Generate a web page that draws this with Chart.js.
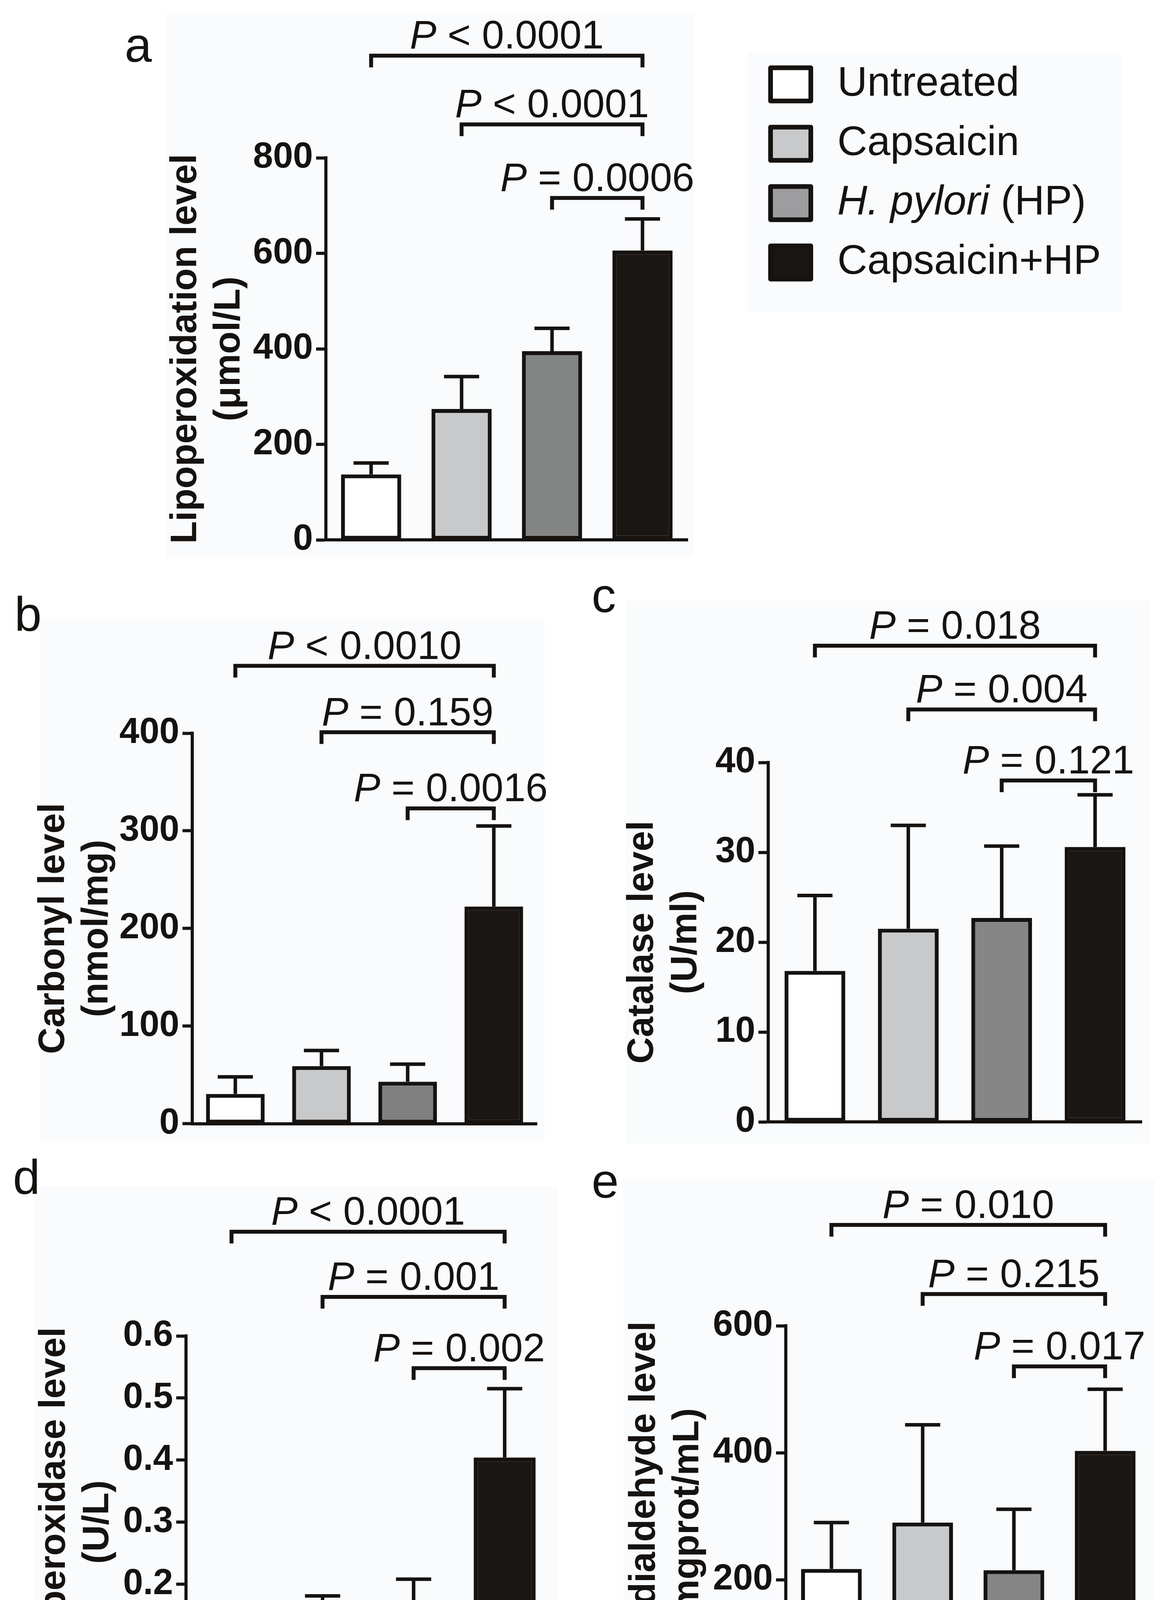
<!DOCTYPE html>
<html>
<head>
<meta charset="utf-8">
<script src="https://cdn.jsdelivr.net/npm/chart.js@4.4.1/dist/chart.umd.min.js"></script>
<style>
    html, body { margin: 0; padding: 0; background: #fff; }
    #fig { position: relative; width: 2984px; height: 4462px; overflow: hidden; background: #fff; }
    canvas { position: absolute; }
</style>
</head>
<body>
<div id="fig">
    <canvas id="chartA"></canvas>
    <canvas id="chartB"></canvas>
    <canvas id="chartC"></canvas>
    <canvas id="chartD"></canvas>
    <canvas id="chartE"></canvas>
</div>
<script>
// groups shown in every panel
const groups = ['Untreated', 'Capsaicin', 'H. pylori (HP)', 'Capsaicin+HP'];
// each comparison is drawn against Capsaicin+HP
const comparisons = [[0, 3], [1, 3], [2, 3]];

// a - lipoperoxidation
const lipoMean = [137, 274, 395, 606];
const lipoSd = [24, 68, 48, 66];
const lipoTicks = [0, 200, 400, 600, 800];
const lipoP = ['< 0.0001', '< 0.0001', '= 0.0006'];
const lipoBracket = [1014, 870, 716];

// b - carbonyl
const carbMean = [30.5, 59, 43, 222.5];
const carbSd = [17.5, 16, 18, 82.5];
const carbTicks = [0, 100, 200, 300, 400];
const carbP = ['< 0.0010', '= 0.159', '= 0.0016'];
const carbBracket = [469, 401, 323];

// c - catalase
const catMean = [16.8, 21.5, 22.7, 30.6];
const catSd = [8.4, 11.5, 8.0, 5.8];
const catTicks = [0, 10, 20, 30, 40];
const catP = ['= 0.018', '= 0.004', '= 0.121'];
const catBracket = [53.0, 45.9, 38.0];

// d - myeloperoxidase
const mpoMean = [0.013, 0.153, 0.160, 0.404];
const mpoSd = [0.003, 0.028, 0.048, 0.111];
const mpoTicks = [0, 0.1, 0.2, 0.3, 0.4, 0.5, 0.6];
const mpoP = ['< 0.0001', '= 0.001', '= 0.002'];
const mpoBracket = [0.768, 0.663, 0.548];

// e - malondialdehyde
const mdaMean = [217, 290, 215, 403];
const mdaSd = [73, 154, 96, 97];
const mdaTicks = [0, 200, 400, 600];
const mdaP = ['= 0.010', '= 0.215', '= 0.017'];
const mdaBracket = [759, 650, 536];

const INK = '#151210';
const PANEL_BG = '#f9fbfd';
const FONT = "'Liberation Sans', Arial, Helvetica, sans-serif";
const TITLE_SIZE = 94;
const TITLE_LH = 1.18;
const P_SIZE = 102;
const LEGEND_SIZE = 106;

const drawPValue = (ctx, text, cx, baseline) => {
    ctx.font = `italic ${P_SIZE}px ${FONT}`;
    const wP = ctx.measureText('P').width;
    ctx.font = `${P_SIZE}px ${FONT}`;
    const rest = ' ' + text;
    const wR = ctx.measureText(rest).width;
    const x0 = cx - (wP + wR) / 2;
    ctx.textAlign = 'left';
    ctx.textBaseline = 'alphabetic';
    ctx.font = `italic ${P_SIZE}px ${FONT}`;
    ctx.fillText('P', x0, baseline);
    ctx.font = `${P_SIZE}px ${FONT}`;
    ctx.fillText(rest, x0 + wP, baseline);
};

const drawLegend = (ctx, p) => {
    const lg = p.legend;
    const [bx0, by0, bx1, by1] = lg.bg;
    ctx.fillStyle = PANEL_BG;
    ctx.fillRect(bx0 - p.left, by0 - p.top, bx1 - bx0, by1 - by0);
    groups.forEach((g, i) => {
        const cy = lg.rows[i] - p.top;
        const x = lg.boxX - p.left;
        ctx.fillStyle = lg.fills[i];
        ctx.strokeStyle = INK;
        ctx.lineWidth = 12;
        ctx.lineJoin = 'round';
        ctx.beginPath();
        ctx.rect(x + 6, cy - lg.boxH / 2 + 6, lg.boxW - 12, lg.boxH - 12);
        ctx.fill();
        ctx.stroke();
        ctx.fillStyle = INK;
        ctx.textBaseline = 'middle';
        ctx.textAlign = 'left';
        const tx = lg.textX - p.left;
        if (g.startsWith('H. pylori')) {
            ctx.font = `italic ${LEGEND_SIZE}px ${FONT}`;
            ctx.fillText('H. pylori', tx, cy);
            const w = ctx.measureText('H. pylori').width;
            ctx.font = `${LEGEND_SIZE}px ${FONT}`;
            ctx.fillText(g.slice('H. pylori'.length), tx + w, cy);
        } else {
            ctx.font = `${LEGEND_SIZE}px ${FONT}`;
            ctx.fillText(g, tx, cy);
        }
    });
};

const panelDeco = (p) => ({
    id: 'panelDeco',
    beforeDraw(chart) {
        const ctx = chart.ctx;
        const [x0, y0, x1, y1] = p.bg;
        ctx.save();
        ctx.fillStyle = PANEL_BG;
        ctx.fillRect(x0 - p.left, y0 - p.top, x1 - x0, y1 - y0);
        ctx.restore();
    },
    afterDatasetsDraw(chart) {
        const ctx = chart.ctx;
        const meta = chart.getDatasetMeta(0);
        const y = chart.scales.y;
        ctx.save();
        ctx.strokeStyle = INK;
        ctx.lineWidth = 9;
        ctx.lineCap = 'butt';
        meta.data.forEach((bar, i) => {
            const yBar = y.getPixelForValue(p.mean[i]);
            const yTop = y.getPixelForValue(p.mean[i] + p.sd[i]);
            ctx.beginPath();
            ctx.moveTo(bar.x, yBar);
            ctx.lineTo(bar.x, yTop);
            ctx.moveTo(bar.x - 45, yTop);
            ctx.lineTo(bar.x + 45, yTop);
            ctx.stroke();
        });
        ctx.restore();
    },
    afterDraw(chart) {
        const ctx = chart.ctx;
        const meta = chart.getDatasetMeta(0);
        const y = chart.scales.y;
        ctx.save();
        ctx.strokeStyle = INK;
        ctx.fillStyle = INK;
        ctx.lineWidth = 10;
        ctx.lineJoin = 'miter';
        comparisons.forEach(([from, to], k) => {
            const yb = y.getPixelForValue(p.brackets[k]);
            const xa = meta.data[from].x;
            const xb = meta.data[to].x;
            ctx.beginPath();
            ctx.moveTo(xa, yb + 30);
            ctx.lineTo(xa, yb);
            ctx.lineTo(xb, yb);
            ctx.lineTo(xb, yb + 30);
            ctx.stroke();
            drawPValue(ctx, p.pvals[k], (xa + xb) / 2, yb - 18);
        });
        ctx.font = `125px ${FONT}`;
        ctx.textAlign = 'left';
        ctx.textBaseline = 'alphabetic';
        ctx.fillText(p.letter, p.letterAt[0] - p.left, p.letterAt[1] - p.top);
        if (p.legend) {
            drawLegend(ctx, p);
        }
        ctx.restore();
    },
});

const makePanel = (canvasId, p) => {
    const canvas = document.getElementById(canvasId);
    canvas.width = p.w;
    canvas.height = p.h;
    canvas.style.left = p.left + 'px';
    canvas.style.top = p.top + 'px';
    canvas.style.width = p.w + 'px';
    canvas.style.height = p.h + 'px';
    const lineH = TITLE_SIZE * TITLE_LH;
    new Chart(canvas, {
        type: 'bar',
        data: {
            labels: groups,
            datasets: [
                {
                    data: p.mean,
                    backgroundColor: p.fills,
                    borderColor: INK,
                    borderWidth: 10,
                    borderSkipped: false,
                    barPercentage: p.barPct,
                    categoryPercentage: 1,
                },
            ],
        },
        options: {
            responsive: false,
            animation: false,
            devicePixelRatio: 1,
            layout: {
                padding: {
                    left: 0,
                    top: p.topY - p.top,
                    right: p.left + p.w - p.rightX,
                    bottom: 0,
                },
            },
            plugins: { legend: { display: false }, tooltip: { enabled: false } },
            scales: {
                x: {
                    type: 'category',
                    grid: { display: false },
                    ticks: { display: false },
                    border: { display: true, color: INK, width: 8 },
                    afterFit: (s) => { s.height = p.top + p.h - p.zeroY; },
                },
                y: {
                    type: 'linear',
                    min: p.ticks[0],
                    max: p.ticks[p.ticks.length - 1],
                    afterBuildTicks: (s) => { s.ticks = p.ticks.map((v) => ({ value: v })); },
                    ticks: {
                        autoSkip: false,
                        color: INK,
                        padding: 8,
                        font: { family: FONT, size: 92, weight: 'bold' },
                        callback: (v) => Number(v).toFixed(p.dec),
                    },
                    grid: {
                        display: true,
                        drawOnChartArea: false,
                        drawTicks: true,
                        tickLength: 25,
                        tickWidth: 8,
                        tickColor: INK,
                        color: INK,
                    },
                    border: { display: true, color: INK, width: 8 },
                    title: {
                        display: true,
                        text: p.title,
                        color: INK,
                        font: { family: FONT, size: TITLE_SIZE, weight: 'bold', lineHeight: TITLE_LH },
                        padding: { top: p.titleX - p.left - lineH / 2, bottom: 0 },
                    },
                    afterFit: (s) => { s.width = p.axisX - p.left; },
                },
            },
        },
        plugins: [panelDeco(p)],
    });
};

makePanel('chartA', {
    left: 0, top: 0, w: 2984, h: 1470,
    axisX: 834, topY: 404, zeroY: 1382, rightX: 1760, barPct: 0.665,
    titleX: 476, letter: 'a', letterAt: [319, 158], bg: [424, 33, 1775, 1427],
    mean: lipoMean, sd: lipoSd, ticks: lipoTicks, dec: 0, pvals: lipoP, brackets: lipoBracket,
    title: ['Lipoperoxidation level', '(μmol/L)'],
    fills: ['#ffffff', '#c8c9cb', '#838484', '#1a1614'],
    legend: {
        bg: [1913, 134, 2869, 800], boxX: 1966, boxW: 115, boxH: 97, textX: 2143,
        rows: [216, 368, 520, 672],
        fills: ['#ffffff', '#c8c9cb', '#9d9d9f', '#1a1614'],
    },
});

makePanel('chartB', {
    left: 0, top: 1470, w: 1490, h: 1470,
    axisX: 492, topY: 1877, zeroY: 2885, rightX: 1374, barPct: 0.68,
    titleX: 138, letter: 'b', letterAt: [37, 1615], bg: [102, 1581, 1394, 2922],
    mean: carbMean, sd: carbSd, ticks: carbTicks, dec: 0, pvals: carbP, brackets: carbBracket,
    title: ['Carbonyl level', '(nmol/mg)'],
    fills: ['#ffffff', '#c8c9cb', '#7f807f', '#1a1614'],
});

makePanel('chartC', {
    left: 1490, top: 1470, w: 1494, h: 1470,
    axisX: 1966, topY: 1952, zeroY: 2872, rightX: 2922, barPct: 0.65,
    titleX: 1645, letter: 'c', letterAt: [1514, 1567], bg: [1600, 1538, 2941, 2927],
    mean: catMean, sd: catSd, ticks: catTicks, dec: 0, pvals: catP, brackets: catBracket,
    title: ['Catalase level', '(U/ml)'],
    fills: ['#ffffff', '#c8c9cb', '#858685', '#1a1614'],
});

makePanel('chartD', {
    left: 0, top: 2940, w: 1490, h: 1522,
    axisX: 476, topY: 3420, zeroY: 4373, rightX: 1408, barPct: 0.68,
    titleX: 140, letter: 'd', letterAt: [33, 3056], bg: [88, 3037, 1427, 4423],
    mean: mpoMean, sd: mpoSd, ticks: mpoTicks, dec: 1, pvals: mpoP, brackets: mpoBracket,
    title: ['Myeloperoxidase level', '(U/L)'],
    fills: ['#ffffff', '#c8c9cb', '#9b9b9d', '#1a1614'],
});

makePanel('chartE', {
    left: 1490, top: 2940, w: 1494, h: 1522,
    axisX: 2011, topY: 3394, zeroY: 4369, rightX: 2945, barPct: 0.665,
    titleX: 1650, letter: 'e', letterAt: [1514, 3066], bg: [1595, 3018, 2956, 4428],
    mean: mdaMean, sd: mdaSd, ticks: mdaTicks, dec: 0, pvals: mdaP, brackets: mdaBracket,
    title: ['Malondialdehyde level', '(mgprot/mL)'],
    fills: ['#ffffff', '#c8c9cb', '#848584', '#1a1614'],
});
</script>
</body>
</html>
